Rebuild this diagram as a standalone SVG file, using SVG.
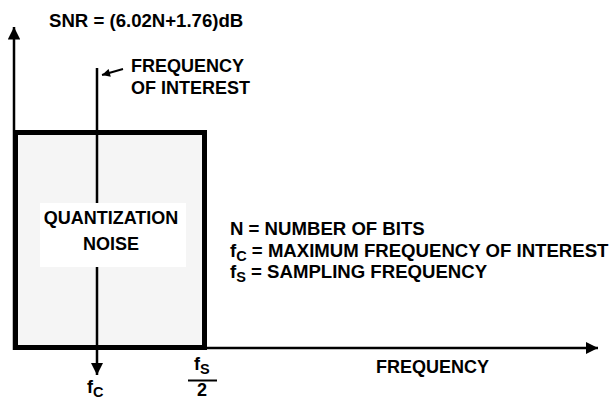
<svg xmlns="http://www.w3.org/2000/svg" width="613" height="400" viewBox="0 0 613 400">
<defs>
<style>
text{font-family:"Liberation Sans",Arial,sans-serif;font-weight:bold;font-size:18px;fill:#000}
.lg{font-size:18.6px}
.ax{stroke:#000;stroke-width:2.5;fill:none}
</style>
<marker id="ah" viewBox="0 0 10 10" refX="10" refY="5" markerWidth="5" markerHeight="5" orient="auto" markerUnits="strokeWidth"><path d="M0,0L10,5L0,10z" fill="#000"/></marker>
<marker id="sah" viewBox="0 0 10 10" refX="10" refY="5" markerWidth="5" markerHeight="4" orient="auto" markerUnits="strokeWidth"><path d="M0,0L10,5L0,10z" fill="#000"/></marker>
</defs>
<rect width="613" height="400" fill="#fff"/>
<g id="noise-box">
<rect x="15.5" y="132.5" width="189" height="215" fill="#f5f5f5" stroke="#000" stroke-width="5"/>
</g>
<g id="connectors">
<line class="ax" x1="14" y1="350" x2="14" y2="27" marker-end="url(#ah)"/>
<line class="ax" x1="207" y1="348" x2="598" y2="348" marker-end="url(#ah)"/>
<line class="ax" x1="97" y1="68" x2="97" y2="375" marker-end="url(#ah)"/>
<line stroke="#000" stroke-width="2" x1="123" y1="69" x2="102" y2="75" marker-end="url(#sah)"/>
</g>
<g id="noise-label">
<rect x="40" y="203" width="146" height="64" fill="#fff"/>
<text x="111" y="224" text-anchor="middle">QUANTIZATION</text>
<text x="111" y="250" text-anchor="middle">NOISE</text>
</g>
<g id="snr-title"><text class="lg" x="49" y="27">SNR = (6.02N+1.76)dB</text></g>
<g id="freq-interest-label">
<text x="131" y="72">FREQUENCY</text>
<text x="131" y="94">OF INTEREST</text>
</g>
<g id="legend">
<text class="lg" x="230" y="235">N = NUMBER OF BITS</text>
<text class="lg" x="230" y="257">f<tspan font-size="14.5" dy="4">C</tspan><tspan dy="-4"> = MAXIMUM FREQUENCY OF INTEREST</tspan></text>
<text class="lg" x="230" y="278">f<tspan font-size="14.5" dy="4">S</tspan><tspan dy="-4"> = SAMPLING FREQUENCY</tspan></text>
</g>
<g id="x-label"><text x="376" y="373">FREQUENCY</text></g>
<g id="fc-label"><text x="87" y="393">f<tspan font-size="14.5" dy="4">C</tspan></text></g>
<g id="fs2-label">
<text x="194" y="370">f<tspan font-size="14.5" dy="4">S</tspan></text>
<line x1="188" y1="380.5" x2="217" y2="380.5" stroke="#000" stroke-width="2"/>
<text x="202" y="396" text-anchor="middle">2</text>
</g>
</svg>
